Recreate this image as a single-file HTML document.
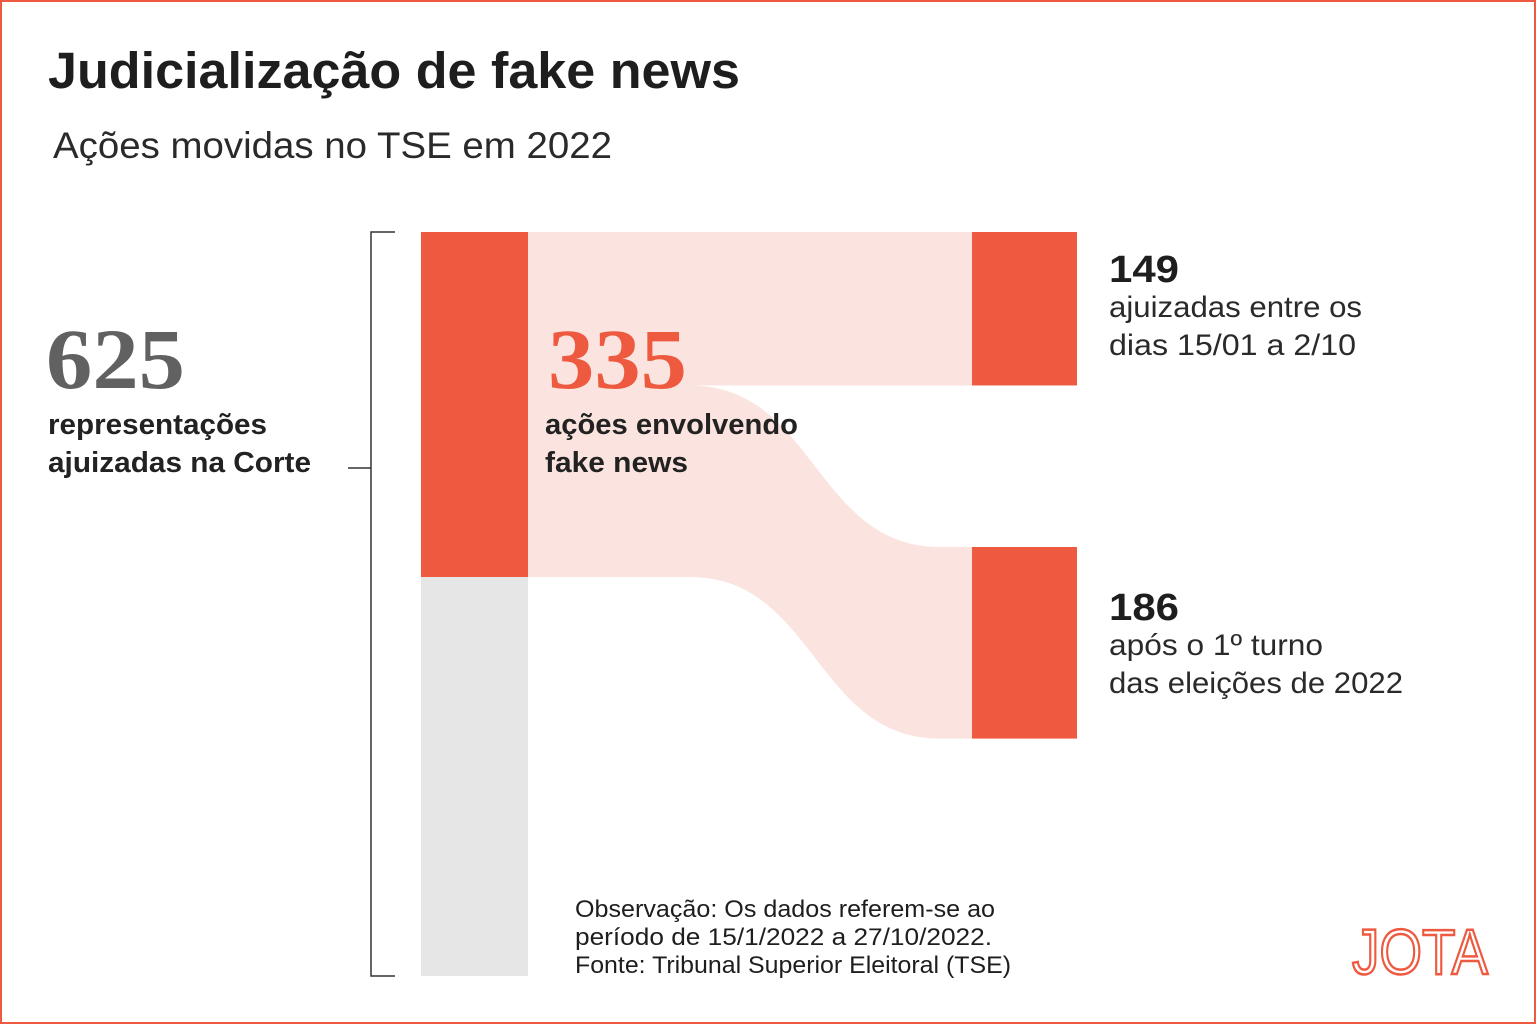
<!DOCTYPE html>
<html><head><meta charset="utf-8"><style>
html,body{margin:0;padding:0;background:#fff;}
#wrap{position:relative;width:1536px;height:1024px;overflow:hidden;}
svg{position:absolute;left:0;top:0;}
</style></head><body>
<div id="wrap">
<svg id="chart" width="1536" height="1024" viewBox="0 0 1536 1024">
<rect x="1" y="1" width="1534" height="1022" fill="none" stroke="#ee5a40" stroke-width="2"/>
<text x="48" y="88" textLength="692" lengthAdjust="spacingAndGlyphs" font-family="Liberation Sans, sans-serif" font-weight="bold" font-size="51" fill="#1e1e1e">Judicialização de fake news</text>
<text x="53" y="158" textLength="559" lengthAdjust="spacingAndGlyphs" font-family="Liberation Sans, sans-serif" font-size="37" fill="#2a2a2a">Ações movidas no TSE em 2022</text>
<path d="M395 232 H371 V976 H395 M371 468 H348" fill="none" stroke="#333" stroke-width="1.5"/>
<g id="marks"></g>
<text x="46" y="388" textLength="139" lengthAdjust="spacingAndGlyphs" font-family="Liberation Serif, serif" font-weight="bold" font-size="86" fill="#616161">625</text>
<text font-family="Liberation Sans, sans-serif" font-weight="bold" font-size="29" fill="#222"><tspan x="48" y="434" textLength="219" lengthAdjust="spacingAndGlyphs">representações</tspan><tspan x="48" y="472" textLength="263" lengthAdjust="spacingAndGlyphs">ajuizadas na Corte</tspan></text>
<text x="548" y="388" textLength="139" lengthAdjust="spacingAndGlyphs" font-family="Liberation Serif, serif" font-weight="bold" font-size="86" fill="#ee5a40">335</text>
<text font-family="Liberation Sans, sans-serif" font-weight="bold" font-size="29" fill="#222"><tspan x="545" y="434" textLength="253" lengthAdjust="spacingAndGlyphs">ações envolvendo</tspan><tspan x="545" y="472" textLength="143" lengthAdjust="spacingAndGlyphs">fake news</tspan></text>
<text x="1109" y="282" textLength="70" lengthAdjust="spacingAndGlyphs" font-family="Liberation Sans, sans-serif" font-weight="bold" font-size="38" fill="#1e1e1e">149</text>
<text font-family="Liberation Sans, sans-serif" font-size="30" fill="#2a2a2a"><tspan x="1109" y="317" textLength="253" lengthAdjust="spacingAndGlyphs">ajuizadas entre os</tspan><tspan x="1109" y="355" textLength="247" lengthAdjust="spacingAndGlyphs">dias 15/01 a 2/10</tspan></text>
<text x="1109" y="620" textLength="70" lengthAdjust="spacingAndGlyphs" font-family="Liberation Sans, sans-serif" font-weight="bold" font-size="38" fill="#1e1e1e">186</text>
<text font-family="Liberation Sans, sans-serif" font-size="30" fill="#2a2a2a"><tspan x="1109" y="655" textLength="214" lengthAdjust="spacingAndGlyphs">após o 1º turno</tspan><tspan x="1109" y="693" textLength="294" lengthAdjust="spacingAndGlyphs">das eleições de 2022</tspan></text>
<text font-family="Liberation Sans, sans-serif" font-size="24" fill="#1e1e1e"><tspan x="575" y="917" textLength="420" lengthAdjust="spacingAndGlyphs">Observação: Os dados referem-se ao</tspan><tspan x="575" y="945" textLength="417" lengthAdjust="spacingAndGlyphs">período de 15/1/2022 a 27/10/2022.</tspan><tspan x="575" y="973" textLength="436" lengthAdjust="spacingAndGlyphs">Fonte: Tribunal Superior Eleitoral (TSE)</tspan></text>
<g>
<text x="1352" y="974" textLength="136" lengthAdjust="spacingAndGlyphs" font-family="Liberation Sans, sans-serif" font-size="64" fill="none" stroke="#ee5a40" stroke-width="2.5">JOTA</text>
</g>
</svg>
</div>
<script>
const categories = ["representações", "fake news", "15/01 a 2/10", "após 1º turno"];
const totalValue = [625];
const fakeNewsValue = [335];
const periodValues = [149, 186];
const top0 = 232, bottom0 = 976, pxPerUnit = 1.03;
const y = v => v * pxPerUnit;
const NS = "http://www.w3.org/2000/svg";
const g = document.getElementById("marks");
function mk(tag, attrs){const e=document.createElementNS(NS,tag);for(const k in attrs)e.setAttribute(k,attrs[k]);g.appendChild(e);return e;}
const redH = y(fakeNewsValue[0]);
const h1 = y(periodValues[0]), h2 = y(periodValues[1]);
const r2top = 547;
const f1 = mk("rect",{x:528,y:top0,width:444,height:h1,fill:"#fbe4df"});


const sy = top0 + h1, ey = r2top, x0 = 690, x1 = 940, xm = (x0 + x1) / 2;
const f2 = mk("path",{d:`M528 ${sy} H${x0} C${xm} ${sy} ${xm} ${ey} ${x1} ${ey} H972 V${ey+h2} H${x1} C${xm} ${ey+h2} ${xm} ${top0+redH} ${x0} ${top0+redH} H528 Z`,fill:"#fbe4df"});


const n1 = mk("rect",{x:421,y:top0,width:107,height:redH,fill:"#ee5a40"});


const n0 = mk("rect",{x:421,y:top0+redH,width:107,height:bottom0-(top0+redH),fill:"#e6e6e6"});


const n2 = mk("rect",{x:972,y:top0,width:105,height:h1,fill:"#ee5a40"});


const n3 = mk("rect",{x:972,y:r2top,width:105,height:h2,fill:"#ee5a40"});


</script>
</body></html>
